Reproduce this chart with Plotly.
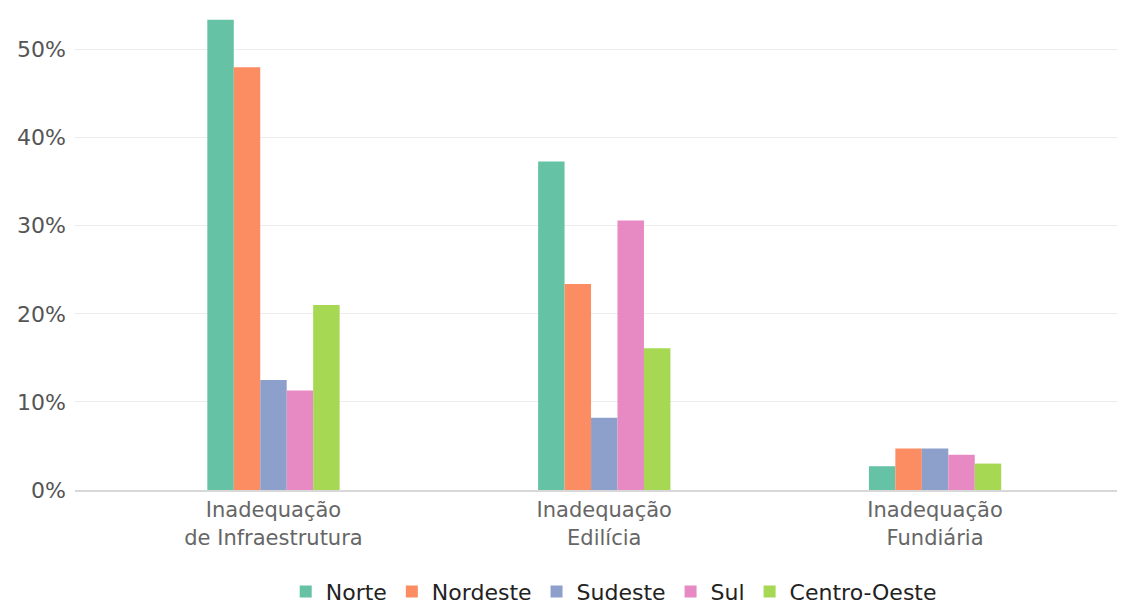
import plotly.graph_objects as go

categories = ["Inadequação<br>de Infraestrutura", "Inadequação<br>Edilícia", "Inadequação<br>Fundiária"]
regions = ["Norte", "Nordeste", "Sudeste", "Sul", "Centro-Oeste"]
norte = [53.4, 37.3, 2.7]
nordeste = [48.0, 23.4, 4.7]
sudeste = [12.5, 8.2, 4.7]
sul = [11.3, 30.6, 4.0]
centro_oeste = [21.0, 16.1, 3.0]
series = [norte, nordeste, sudeste, sul, centro_oeste]
colors = ["#66c2a5", "#fc8d62", "#8da0cb", "#e78ac3", "#a6d854"]
y_ticks = [0, 10, 20, 30, 40, 50]
y_tick_labels = ["0%", "10%", "20%", "30%", "40%", "50%"]

fig = go.Figure()
for name, vals, col in zip(regions, series, colors):
    fig.add_trace(go.Bar(name=name, x=categories, y=vals, marker=dict(color=col, line=dict(width=0))))

fig.update_layout(
    width=1130, height=605,
    margin=dict(l=75, r=13, t=10, b=115, autoexpand=False),
    paper_bgcolor="white", plot_bgcolor="white",
    barmode="group", bargap=0.6, bargroupgap=0,
    font=dict(family="DejaVu Sans, sans-serif", color="#666666"),
    legend=dict(orientation="h", x=0.517, xanchor="center", yref="container", y=0.022, yanchor="middle",
                font=dict(size=22, color="#222222"), itemwidth=30, tracegroupgap=0),
    xaxis=dict(range=[-0.6, 2.55], showgrid=False, showline=True, linecolor="#d8d8d8", linewidth=2,
               ticks="", tickfont=dict(size=21, color="#666666"), automargin=False),
    yaxis=dict(range=[0, 54.5], tickvals=y_ticks, ticktext=y_tick_labels, showgrid=True,
               gridcolor="#ececec", gridwidth=1, zeroline=False, automargin=False,
               tickfont=dict(size=22, color="#555555"), ticklabelstandoff=8),
)

fig.write_html("out.html", config={"displayModeBar": False},
               post_script="document.body.style.margin='0px';")
